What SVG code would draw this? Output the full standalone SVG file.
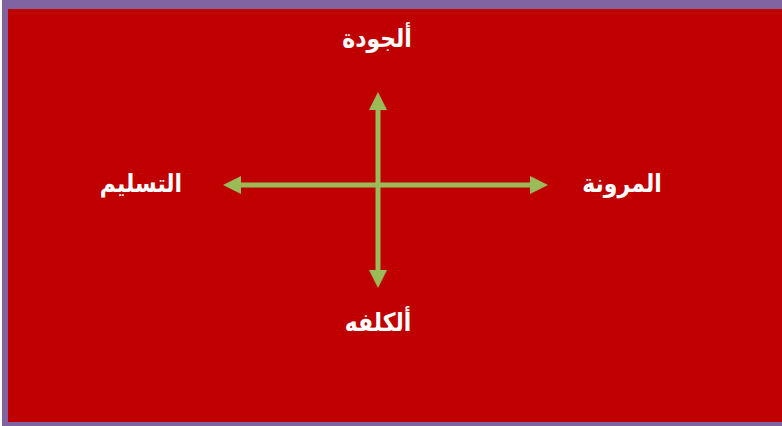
<svg xmlns="http://www.w3.org/2000/svg" width="782" height="426" viewBox="0 0 782 426">
<style>
.lbl{font-family:"DejaVu Sans","Liberation Sans",sans-serif;font-weight:bold;font-size:22px;fill:#ffffff;text-anchor:middle;direction:rtl}
.ax{stroke:#9BBB59;stroke-width:5;fill:none}
</style>
<defs>
<marker id="ah" viewBox="0 0 18 18" refX="2" refY="9" markerWidth="18" markerHeight="18" markerUnits="userSpaceOnUse" orient="auto">
<path d="M0,0 L18,9 L0,18 Z" fill="#9BBB59"/>
</marker>
</defs>
<rect x="2" y="0" width="780" height="426" fill="#8064A2"/>
<rect x="8" y="9" width="774" height="413" fill="#C00000"/>
<g id="connectors">
<line class="ax" x1="378" y1="185" x2="532" y2="185" marker-end="url(#ah)"/>
<line class="ax" x1="378" y1="185" x2="239" y2="185" marker-end="url(#ah)"/>
<line class="ax" x1="378" y1="185" x2="378" y2="108" marker-end="url(#ah)"/>
<line class="ax" x1="378" y1="185" x2="378" y2="272" marker-end="url(#ah)"/>
</g>
<g id="top"><text class="lbl" x="377" y="47" transform="translate(377 47) scale(1 1.15) translate(-377 -47)">ألجودة</text></g>
<g id="left"><text class="lbl" x="141" y="192" transform="translate(141 192) scale(1 1.15) translate(-141 -192)">التسليم</text></g>
<g id="right"><text class="lbl" x="622" y="192" transform="translate(622 192) scale(1 1.15) translate(-622 -192)">المرونة</text></g>
<g id="bottom"><text class="lbl" x="378" y="331" transform="translate(378 331) scale(1 1.15) translate(-378 -331)">ألكلفه</text></g>
</svg>
